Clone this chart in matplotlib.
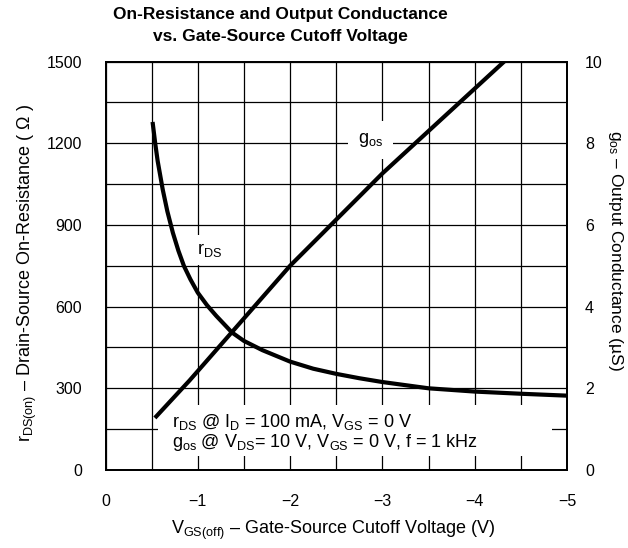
import matplotlib
matplotlib.use("Agg")
import matplotlib.pyplot as plt
from matplotlib.patches import Rectangle

plt.rcParams['font.family'] = ['Liberation Sans', 'DejaVu Sans']
plt.rcParams['mathtext.fontset'] = 'custom'
plt.rcParams['mathtext.rm'] = 'Liberation Sans'
plt.rcParams['mathtext.it'] = 'Liberation Sans:italic'
plt.rcParams['mathtext.bf'] = 'Liberation Sans:bold'

# ---- data ----
vgs_rds = [-0.51, -0.54, -0.565, -0.62, -0.67, -0.73, -0.79, -0.85, -0.92, -1.0,
           -1.1, -1.2, -1.37, -1.5, -1.7, -2.0, -2.25, -2.5, -2.75, -3.0,
           -3.5, -4.0, -4.5, -5.0]
rds = [1278, 1196, 1135, 1030, 950, 871, 805, 749, 700, 651,
       605, 566, 505, 474, 440, 398, 372, 353, 337, 323,
       300, 288, 280, 273]
vgs_gos = [-0.535, -0.91, -2.0, -3.0, -4.32]
gos = [1.275, 2.19, 5.0, 7.26, 10.0]

x_ticks = [0, -1, -2, -3, -4, -5]
x_ticklabels = ['0', '\u22121', '\u22122', '\u22123', '\u22124', '\u22125']
x_grid = [-0.5 * i for i in range(11)]
yl_ticks = [0, 300, 600, 900, 1200, 1500]
yl_grid = [150 * i for i in range(11)]
yr_ticks = [0, 2, 4, 6, 8, 10]

W, H = 628, 548
fig = plt.figure(figsize=(W / 100, H / 100), dpi=100)
L, R, T, B = 105.5, 567, 61.5, 470
ax = fig.add_axes([L / W, 1 - B / H, (R - L) / W, (B - T) / H])

ax.set_xlim(0, -5)
ax.set_ylim(0, 1500)
for xv in x_grid:
    ax.axvline(xv, color='black', lw=0.9, zorder=1)
for yv in yl_grid:
    ax.axhline(yv, color='black', lw=0.9, zorder=1)

ax.set_xticks(x_ticks)
ax.set_xticklabels(x_ticklabels, fontsize=11.5)
ax.set_yticks(yl_ticks)
ax.set_yticklabels([str(v) for v in yl_ticks], fontsize=11.5)
ax.tick_params(axis='both', length=0)
ax.tick_params(axis='x', pad=17)
ax.tick_params(axis='y', pad=17)
for s in ax.spines.values():
    s.set_linewidth(1.3)

ax2 = ax.twinx()
ax2.set_ylim(0, 10)
ax2.set_yticks(yr_ticks)
ax2.set_yticklabels([str(v) for v in yr_ticks], fontsize=11.5)
ax2.tick_params(axis='y', length=0, pad=13)
for s in ax2.spines.values():
    s.set_linewidth(1.3)

# white box behind the conditions text (hides grid)
ax.add_patch(Rectangle((0.114, 0.034), 0.853, 0.125, transform=ax.transAxes,
                       facecolor='white', edgecolor='none', zorder=2))

ax.text(-2.87, 1212, r'g$_{\mathrm{os}}$', fontsize=13, ha='center', va='center',
        zorder=3, bbox=dict(facecolor='white', edgecolor='none', pad=7))
ax.text(-1.13, 808, r'r$_{\mathrm{DS}}$', fontsize=13, ha='center', va='center',
        zorder=3, bbox=dict(facecolor='white', edgecolor='none', pad=4))

ax.text(0.144, 0.105,
        r'r$_{\mathrm{DS}}$ @ I$_{\mathrm{D}}$ = 100 mA, V$_{\mathrm{GS}}$ = 0 V',
        transform=ax.transAxes, fontsize=13, ha='left', va='baseline', zorder=3)
ax.text(0.144, 0.056,
        r'g$_{\mathrm{os}}$ @ V$_{\mathrm{DS}}$= 10 V, V$_{\mathrm{GS}}$ = 0 V, f = 1 kHz',
        transform=ax.transAxes, fontsize=13, ha='left', va='baseline', zorder=3)

ax.plot(vgs_rds, rds, color='black', lw=3.0, solid_capstyle='butt', zorder=4)
ax2.plot(vgs_gos, gos, color='black', lw=3.0, solid_capstyle='butt', zorder=4)

fig.text(280 / W, 1 - 15 / H, 'On-Resistance and Output Conductance',
         fontsize=12.5, fontweight='bold', ha='center', va='center')
fig.text(280 / W, 1 - 37 / H, 'vs. Gate-Source Cutoff Voltage',
         fontsize=12.5, fontweight='bold', ha='center', va='center')

fig.text(333 / W, 1 - 530 / H,
         'V$_{\\mathrm{GS(off)}}$ \u2013 Gate-Source Cutoff Voltage (V)',
         fontsize=13, ha='center', va='center')
fig.text(27 / W, 1 - 273 / H,
         'r$_{\\mathrm{DS(on)}}$ \u2013 Drain-Source On-Resistance ( \u03a9 )',
         fontsize=13, ha='center', va='center', rotation=90)
fig.text(616 / W, 1 - 250 / H,
         'g$_{\\mathrm{os}}$ \u2013 Output Conductance (\u00b5S)',
         fontsize=12.5, ha='center', va='center', rotation=-90)

fig.savefig('out.png', dpi=100)
